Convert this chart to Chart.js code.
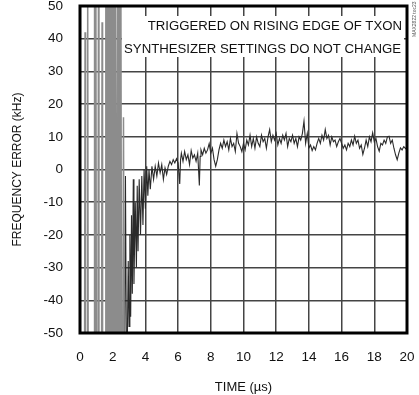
<!DOCTYPE html>
<html>
<head>
<meta charset="utf-8">
<script src="https://cdn.jsdelivr.net/npm/chart.js@4.4.0/dist/chart.umd.min.js"></script>
<style>
  html, body { margin: 0; padding: 0; background: #fff; }
  #wrap { width: 419px; height: 395px; position: relative; }
</style>
</head>
<body>
<div id="wrap"><canvas id="errChart"></canvas></div>
<script>
// Fast ringing right after TXON goes high (us, kHz) - runs off the scale
const ringTime = [0.00, 0.28, 0.31, 0.34, 0.44, 0.47, 0.50, 0.86, 0.89, 0.93, 0.97, 1.00, 1.10, 1.13, 1.16,
  1.32, 1.35, 1.38, 1.55, 1.58, 1.61, 1.64, 1.67, 1.70, 1.73, 1.76, 1.79, 1.82, 1.85, 1.88, 1.91, 1.94,
  1.97, 2.00, 2.03, 2.06, 2.09, 2.12, 2.15, 2.18, 2.28, 2.31, 2.35, 2.40, 2.44, 2.50, 2.54, 2.62, 2.66, 2.70];
const ringErr = [-60, -60, 42, -60, -60, 60, -60, -60, 60, -60, 60, -60, -60, 60, -60,
  -60, 45, -60, -60, 60, -60, 60, -60, 60, -60, 60, -60, 60, -60, 60, -60, 60,
  -60, 60, -60, 60, -60, 60, -60, 60, -60, 60, -60, 60, -60, 60, -60, -60, 16, -60];

// Settling of the synthesizer after the ringing
const settleTime = [2.72, 2.78, 2.84, 2.90, 2.95, 3.00, 3.05, 3.10, 3.15, 3.20, 3.26, 3.30, 3.38, 3.45, 3.50,
  3.55, 3.62, 3.70, 3.78, 3.85, 3.92, 4.00, 4.08, 4.15, 4.22, 4.30, 4.40, 4.50,
  4.6, 4.7, 4.8, 4.9, 5.0, 5.1, 5.2, 5.3, 5.4, 5.5, 5.6, 5.7, 5.8, 5.9, 6.0, 6.1, 6.15, 6.2, 6.3, 6.4,
  6.5, 6.6, 6.7, 6.8, 6.9, 7.0, 7.1, 7.2, 7.3, 7.35, 7.4, 7.5, 7.6, 7.7, 7.8, 7.9, 8.0, 8.1, 8.2, 8.3,
  8.4, 8.5, 8.6, 8.7, 8.8, 8.9, 9.0, 9.1, 9.2, 9.3, 9.4, 9.5, 9.6, 9.7, 9.8, 9.9, 10.0, 10.1, 10.2,
  10.3, 10.4, 10.5, 10.6, 10.7, 10.8, 10.9, 11.0, 11.1, 11.2, 11.3, 11.4, 11.5, 11.6, 11.7, 11.8, 11.9,
  12.0, 12.1, 12.2, 12.3, 12.4, 12.5, 12.6, 12.7, 12.8, 12.9, 13.0, 13.1, 13.2, 13.3, 13.4, 13.5, 13.6,
  13.7, 13.8, 13.9, 14.0, 14.1, 14.2, 14.3, 14.4, 14.5, 14.6, 14.7, 14.8, 14.9, 15.0, 15.1, 15.2, 15.3,
  15.4, 15.5, 15.6, 15.7, 15.8, 15.9, 16.0, 16.1, 16.2, 16.3, 16.4, 16.5, 16.6, 16.7, 16.8, 16.9, 17.0,
  17.1, 17.2, 17.3, 17.4, 17.5, 17.6, 17.7, 17.8, 17.9, 18.0, 18.1, 18.2, 18.3, 18.4, 18.5, 18.6, 18.7,
  18.8, 18.9, 19.0, 19.1, 19.2, 19.3, 19.4, 19.5, 19.6, 19.7, 19.8, 19.9, 20.0];
const settleErr = [-60, -2, -60, -50, -28, -48, -20, -45, -14, -38, -3, -35, -10, -30, -5,
  -25, -3, -20, -2, -17, 0, -12, 1, -8, 0, -6, 1, -3,
  1, -2, 2, -1, 1.5, -3, 0.5, -1.5, 1, 2.5, 1.5, 3, 2, 3.3, 2, -4.4, 3, 5, 2.5, 5.5,
  3, 4.5, 1.5, 5.8, 3.5, 4.5, 2.5, 5, -4.9, 4, 6, 4.5, 6.5, 5, 6, 7.9, 5, 6.5, 3, 1,
  3, 6, 8, 6.5, 9, 7, 8.5, 6, 9.5, 7, 8, 5.5, 11, 8, 7, 5.5, 8, 6, 9,
  7.5, 10.5, 7, 9.5, 6.5, 10, 8, 7, 10.5, 8.5, 9.5, 6.5, 10, 12.2, 8.5, 10.5, 9,
  11, 7.5, 9.5, 8, 10.5, 9, 11, 7, 9.5, 8.5, 10.5, 8, 9.5, 7, 10, 9, 11,
  14.8, 8, 11, 6.6, 7.5, 5.8, 7, 6, 8, 9.5, 8, 10.5, 9, 12.2, 9.5, 10.5, 7.5,
  10, 8.5, 9, 7, 8.5, 9.5, 8, 6.5, 7.5, 6, 8, 7, 9, 7.5, 10.2, 8, 9,
  6.5, 7.5, 4.6, 6.5, 9, 7, 10, 8.5, 11.2, 8.5, 9.5, 7, 5.6, 8, 7.5, 9, 8,
  10, 10.2, 8, 9, 6.5, 4.5, 3, 5, 6.6, 6, 7, 6.5, 6];

const xTicks = [0, 2, 4, 6, 8, 10, 12, 14, 16, 18, 20];
const yTicks = [-50, -40, -30, -20, -10, 0, 10, 20, 30, 40, 50];
const noteLines = ['TRIGGERED ON RISING EDGE OF TXON', 'SYNTHESIZER SETTINGS DO NOT CHANGE'];

const FONT = '"Liberation Sans", Arial, sans-serif';

const toPoints = (xs, ys) => xs.map((x, i) => ({ x: x, y: ys[i] }));

// frame around the plot, note box and the figure id on the right edge
const framePlugin = {
  id: 'frame',
  afterDatasetsDraw(chart) {
    const { ctx, chartArea: a } = chart;
    ctx.save();
    ctx.fillStyle = '#fff';
    ctx.fillRect(a.left + 42, a.top + 10, a.right - a.left - 45, 41);
    ctx.fillStyle = '#111';
    ctx.font = '13.2px ' + FONT;
    ctx.textAlign = 'right';
    ctx.textBaseline = 'middle';
    ctx.fillText(noteLines[0], a.right - 5, a.top + 20);
    ctx.fillText(noteLines[1], a.right - 6, a.top + 43);

    ctx.strokeStyle = '#000';
    ctx.lineWidth = 3;
    ctx.strokeRect(a.left, a.top, a.right - a.left, a.bottom - a.top);

    ctx.translate(a.right + 8, a.top + 31);
    ctx.rotate(-Math.PI / 2);
    ctx.font = '5px ' + FONT;
    ctx.fillStyle = '#555';
    ctx.textAlign = 'left';
    ctx.fillText('MAX2822 toc23', 0, 0);
    ctx.restore();
  }
};

new Chart(document.getElementById('errChart'), {
  type: 'line',
  data: {
    datasets: [{
      data: toPoints(ringTime, ringErr),
      borderColor: '#8c8c8c',
      borderWidth: 1.5,
      pointRadius: 0,
      tension: 0
    }, {
      data: toPoints(settleTime, settleErr),
      borderColor: '#2a2a2a',
      borderWidth: 1.1,
      pointRadius: 0,
      tension: 0
    }]
  },
  options: {
    responsive: true,
    maintainAspectRatio: false,
    animation: false,
    layout: { padding: { top: 6, right: 12, left: 0, bottom: 0 } },
    plugins: { legend: { display: false }, tooltip: { enabled: false } },
    scales: {
      x: {
        type: 'linear',
        min: 0,
        max: 20,
        afterBuildTicks: s => { s.ticks = xTicks.map(v => ({ value: v })); },
        afterFit: s => { s.height = 62; s.paddingLeft = 0; s.paddingRight = 0; },
        grid: { color: '#444', lineWidth: 1.5, drawTicks: false },
        border: { display: false },
        ticks: { padding: 16, color: '#111', font: { family: FONT, size: 13.5 }, maxRotation: 0 },
        title: { display: true, text: 'TIME (µs)', color: '#111', font: { family: FONT, size: 13 }, padding: { top: 10, bottom: 0 } }
      },
      y: {
        min: -50,
        max: 50,
        afterBuildTicks: s => { s.ticks = yTicks.map(v => ({ value: v })); },
        afterFit: s => { s.width = 80; s.paddingTop = 0; s.paddingBottom = 0; },
        grid: { color: '#444', lineWidth: 1.5, drawTicks: false },
        border: { display: false },
        ticks: { padding: 17, color: '#111', font: { family: FONT, size: 13.5 } },
        title: { display: true, text: 'FREQUENCY ERROR (kHz)', color: '#111', font: { family: FONT, size: 12 }, padding: { top: 10, bottom: 0 } }
      }
    }
  },
  plugins: [framePlugin]
});
</script>
</body>
</html>
